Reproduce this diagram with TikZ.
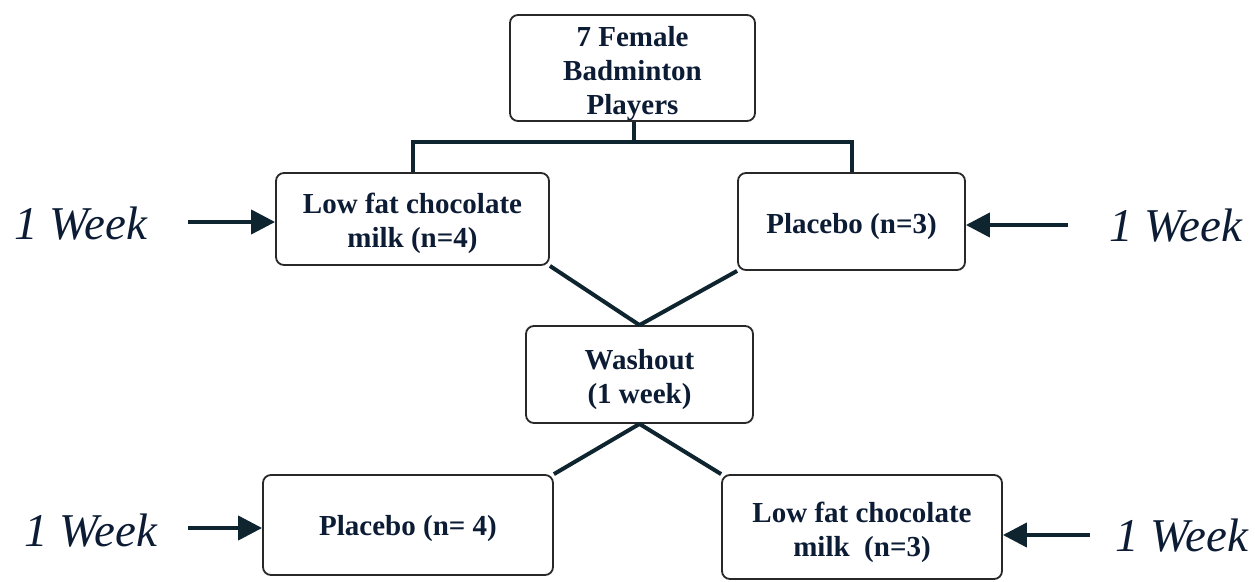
\documentclass[tikz,border=0pt]{standalone}
\usepackage{fontspec}
\setmainfont{Liberation Serif}
\usetikzlibrary{arrows.meta}
\definecolor{txt}{RGB}{12,28,52}
\definecolor{conn}{RGB}{14,36,46}
\definecolor{boxline}{RGB}{40,40,40}
\newcommand{\boxtext}[2][-5pt]{\raisebox{#1}[\height][\depth]{\begin{tabular}{@{}c@{}}#2\end{tabular}}}
\tikzset{
  box/.style={draw=boxline, line width=1.8pt, rounded corners=8pt, fill=white,
    text=txt, font=\bfseries\fontsize{29}{34}\selectfont, align=center, inner sep=0pt},
  conn/.style={draw=conn, line width=4pt},
  arr/.style={draw=conn, line width=4pt, -{Triangle[length=24pt,width=24pt]}},
  week/.style={text=txt, font=\itshape\fontsize{47}{52}\selectfont, inner sep=0pt}
}
\begin{document}
\begin{tikzpicture}[x=1pt,y=-1pt]
\useasboundingbox (0,0) rectangle (1255,581);
\fill[white] (0,0) rectangle (1255,581);
% boxes
\node[box, minimum width=245pt, minimum height=106pt] (top) at (632.5,68) {\boxtext[-6pt]{7 Female\\Badminton\\Players}};
\node[box, minimum width=273pt, minimum height=92pt] (lf1) at (412.5,219) {\boxtext[-5pt]{Low fat chocolate\\milk (n=4)}};
\node[box, minimum width=227pt, minimum height=97pt] (pl1) at (851.5,221.5) {\boxtext[-5pt]{Placebo (n=3)}};
\node[box, minimum width=227pt, minimum height=97pt] (wash) at (639.5,374.5) {\boxtext[-5pt]{Washout\\ (1 week)}};
\node[box, minimum width=290pt, minimum height=100pt] (pl2) at (408,525) {\boxtext[-4pt]{Placebo (n= 4)}};
\node[box, minimum width=280pt, minimum height=104pt] (lf2) at (862,527) {\boxtext[-6pt]{Low fat chocolate\\milk\ \ (n=3)}};
% tree
\coordinate (br) at (634,142);
\draw[conn] (top.south -| br) -- (br);
\draw[conn] (br) -| (lf1.north);
\draw[conn] (br) -| (pl1.north);
% crossings
\draw[conn] (lf1.south east) -- (wash.north);
\draw[conn] (pl1.south west) -- (wash.north);
\draw[conn] (wash.south) -- (pl2.north east);
\draw[conn] (wash.south) -- (lf2.north west);
% week labels and arrows
\node[week] (w1) at (81,224) {1 Week};
\node[week] (w2) at (1176,226) {1 Week};
\node[week] (w3) at (91,531) {1 Week};
\node[week] (w4) at (1182,536) {1 Week};
\coordinate (a1) at (188,222);
\coordinate (a2) at (1068,225);
\coordinate (a3) at (188,528);
\coordinate (a4) at (1090,535);
\draw[arr] (a1) -- (a1 -| lf1.west);
\draw[arr] (a2) -- (a2 -| pl1.east);
\draw[arr] (a3) -- (a3 -| pl2.west);
\draw[arr] (a4) -- (a4 -| lf2.east);
\end{tikzpicture}
\end{document}
